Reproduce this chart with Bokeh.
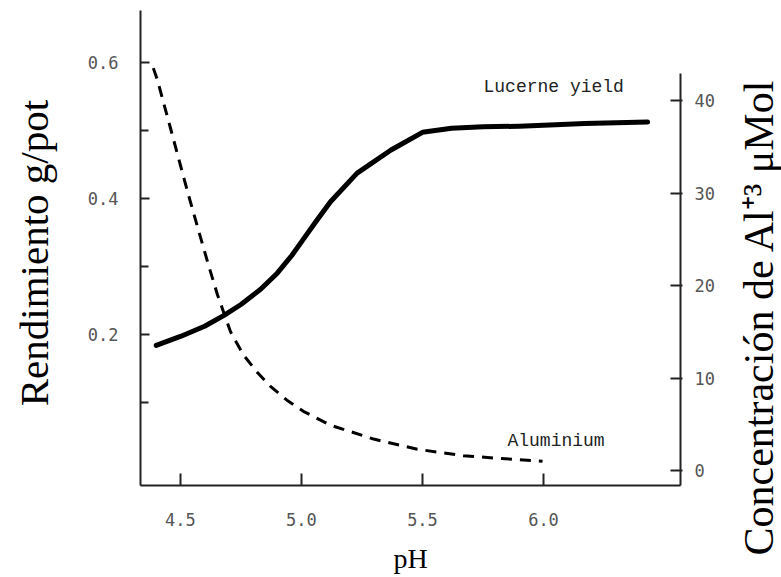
import math
from bokeh.plotting import figure
from bokeh.layouts import row
from bokeh.models import LinearAxis, Range1d, FixedTicker, PrintfTickFormatter, Label, Title
from bokeh.embed import file_html
from bokeh.resources import INLINE

# --- data ---
ph_yield = [4.40, 4.50, 4.60, 4.68, 4.75, 4.83, 4.90, 4.96, 5.00, 5.06, 5.12,
            5.23, 5.37, 5.50, 5.62, 5.75, 5.90, 6.05, 6.17, 6.30, 6.43]
yield_g = [0.184, 0.197, 0.212, 0.228, 0.244, 0.266, 0.290, 0.316, 0.336, 0.366, 0.395,
           0.437, 0.471, 0.497, 0.503, 0.505, 0.506, 0.508, 0.510, 0.511, 0.512]

ph_al = [4.388, 4.405, 4.459, 4.500, 4.533, 4.583, 4.616, 4.653, 4.707, 4.760,
         4.818, 4.872, 4.940, 5.008, 5.120, 5.298, 5.479, 5.669, 5.822, 5.996]
al_umol = [43.5, 42.2, 37.0, 33.0, 29.8, 25.2, 22.2, 19.0, 15.0, 12.5,
           10.6, 9.1, 7.6, 6.4, 4.9, 3.4, 2.3, 1.6, 1.3, 1.0]

x_ticks = [4.5, 5.0, 5.5, 6.0]
left_ticks = [0.2, 0.4, 0.6]
left_minor = [0.1, 0.3, 0.5]
right_ticks = [0, 10, 20, 30, 40]

x_label = "pH"
left_label = "Rendimiento  g/pot"
right_label = "Concentración de Al\u207a\u00b3  \u03bcMol"
yield_name = "Lucerne yield"
al_name = "Aluminium"

AXIS_COL = "#222222"
TICK_FONT = "DejaVu Sans Mono"
TICK_COL = "#555555"
LABEL_FONT = "Liberation Serif"

W, H = 781, 577
MAIN_W = 733

p = figure(width=MAIN_W, height=H, output_backend="svg", toolbar_location=None,
           x_range=Range1d(4.335, 6.566), y_range=Range1d(-0.022, 0.676),
           min_border_left=140, min_border_right=MAIN_W - 680, min_border_top=10,
           min_border_bottom=92, background_fill_color="white",
           border_fill_color="white")
p.extra_y_ranges = {"al": Range1d(-1.62, 49.73)}
p.outline_line_color = None
p.grid.visible = False

# bottom axis
xa = p.xaxis[0]
xa.ticker = FixedTicker(ticks=x_ticks)
xa.formatter = PrintfTickFormatter(format="%.1f")
xa.axis_label = x_label
xa.axis_label_text_font = LABEL_FONT
xa.axis_label_text_font_style = "normal"
xa.axis_label_text_font_size = "28px"
xa.axis_label_text_color = "black"
xa.axis_label_standoff = 14
xa.major_label_standoff = 27
xa.major_label_text_font = TICK_FONT
xa.major_label_text_font_size = "17px"
xa.major_label_text_color = TICK_COL
xa.major_tick_in = 12
xa.major_tick_out = 0
xa.minor_tick_line_color = None
xa.axis_line_color = AXIS_COL
xa.axis_line_width = 2
xa.major_tick_line_color = AXIS_COL
xa.major_tick_line_width = 2

# left axis
ya = p.yaxis[0]
ya.ticker = FixedTicker(ticks=left_ticks, minor_ticks=left_minor)
ya.formatter = PrintfTickFormatter(format="%.1f")
ya.axis_label = left_label
ya.axis_label_text_font = LABEL_FONT
ya.axis_label_text_font_style = "normal"
ya.axis_label_text_font_size = "41px"
ya.axis_label_text_color = "black"
ya.axis_label_standoff = 28
ya.major_label_standoff = 22
ya.major_label_text_font = TICK_FONT
ya.major_label_text_font_size = "17px"
ya.major_label_text_color = TICK_COL
ya.major_tick_in = 9
ya.major_tick_out = 0
ya.minor_tick_in = 8
ya.minor_tick_out = 0
ya.axis_line_color = AXIS_COL
ya.axis_line_width = 2
ya.major_tick_line_color = AXIS_COL
ya.major_tick_line_width = 2
ya.minor_tick_line_color = AXIS_COL
ya.minor_tick_line_width = 2

# right axis
ra = LinearAxis(y_range_name="al", ticker=FixedTicker(ticks=right_ticks),
                formatter=PrintfTickFormatter(format="%d"), bounds=(-1.62, 42.9))
ra.major_label_standoff = 12
ra.major_label_text_font = TICK_FONT
ra.major_label_text_font_size = "17px"
ra.major_label_text_color = TICK_COL
ra.major_tick_in = 10
ra.major_tick_out = 2
ra.minor_tick_line_color = None
ra.axis_line_color = AXIS_COL
ra.axis_line_width = 2
ra.major_tick_line_color = AXIS_COL
ra.major_tick_line_width = 2
p.add_layout(ra, "right")

# curves
p.line(ph_yield, yield_g, line_color="black", line_width=5, line_cap="round",
       line_join="round")
p.line(ph_al, al_umol, y_range_name="al", line_color="black", line_width=3,
       line_dash="11 8")

# curve names
p.add_layout(Label(x=5.752, y=0.563, text=yield_name, text_font="Liberation Mono",
                   text_font_size="18px", text_color="#222222",
                   text_baseline="middle", text_align="left"))
p.add_layout(Label(x=5.851, y=0.043, text=al_name, text_font="Liberation Mono",
                   text_font_size="18px", text_color="#222222",
                   text_baseline="middle", text_align="left"))

# right-hand title strip: vertical title reading bottom to top
t = figure(width=W - MAIN_W, height=H, output_backend="svg", toolbar_location=None,
           x_range=Range1d(0, 1), y_range=Range1d(0, 1),
           x_axis_location=None, y_axis_location=None, min_border=0,
           background_fill_color="white", border_fill_color="white")
t.outline_line_color = None
t.grid.visible = False
t.add_layout(Title(text=right_label, text_font=LABEL_FONT, text_font_size="42px",
                   text_font_style="normal", text_color="black", align="left",
                   offset=-70, standoff=0), "left")

layout = row(p, t)
open("out.html", "w").write(file_html(layout, INLINE))
